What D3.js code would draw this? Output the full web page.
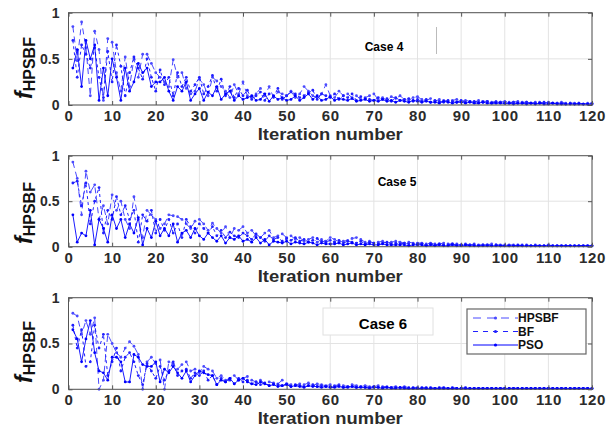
<!DOCTYPE html>
<html><head><meta charset="utf-8">
<script src="https://cdn.jsdelivr.net/npm/d3@7"></script>
<style>body{margin:0;background:#fff}svg{display:block}</style>
</head><body>
<svg id="c" width="614" height="428"></svg>
<script>
const seriesNames = ["HPSBF","BF","PSO"];
const caseLabels = ["Case 4","Case 5","Case 6"];
const xTicks = [0,10,20,30,40,50,60,70,80,90,100,110,120];
const yTicks = [0,0.5,1];

// Case 4
const c4HPSBF = [0.85,0.48,0.9,0.62,0.1,0.8,0.6,0.05,0.72,0.68,0.35,0.15,0.52,0.2,0.5,0.3,0.55,0.55,0.45,0.35,
0.3,0.25,0.2,0.49,0.3,0.35,0.18,0.12,0.15,0.28,0.22,0.1,0.3,0.26,0.2,0.15,0.08,0.22,0.12,0.25,
0.1,0.08,0.12,0.18,0.1,0.2,0.08,0.14,0.12,0.1,0.15,0.08,0.12,0.2,0.15,0.1,0.08,0.12,0.22,0.1,
0.08,0.15,0.1,0.12,0.08,0.1,0.06,0.08,0.1,0.12,0.06,0.08,0.05,0.09,0.07,0.1,0.06,0.05,0.08,0.09,
0.06,0.05,0.07,0.04,0.06,0.05,0.04,0.05,0.06,0.04,0.05,0.04,0.03,0.05,0.04,0.04,0.03,0.04,0.03,0.04,
0.03,0.03,0.04,0.03,0.03,0.02,0.03,0.03,0.02,0.03,0.02,0.02,0.03,0.02,0.02,0.02,0.02,0.01,0.02,0.02];
const c4BF = [0.7,0.3,0.65,0.55,0.4,0.62,0.3,0.08,0.58,0.25,0.65,0.42,0.1,0.35,0.52,0.4,0.28,0.5,0.3,0.15,
0.38,0.22,0.3,0.1,0.35,0.2,0.3,0.15,0.22,0.3,0.12,0.2,0.32,0.15,0.28,0.1,0.2,0.08,0.18,0.1,
0.16,0.06,0.1,0.14,0.05,0.12,0.09,0.18,0.06,0.1,0.14,0.12,0.08,0.1,0.13,0.16,0.06,0.12,0.1,0.08,
0.12,0.06,0.1,0.08,0.12,0.05,0.09,0.07,0.06,0.05,0.08,0.06,0.07,0.04,0.08,0.05,0.06,0.07,0.04,0.06,
0.04,0.06,0.03,0.05,0.04,0.03,0.05,0.04,0.03,0.05,0.03,0.04,0.04,0.03,0.03,0.04,0.02,0.03,0.03,0.02,
0.02,0.03,0.02,0.02,0.03,0.02,0.02,0.02,0.03,0.02,0.02,0.02,0.02,0.01,0.02,0.01,0.02,0.01,0.01,0.01];
const c4PSO = [0.4,0.6,0.2,0.7,0.5,0.65,0.05,0.4,0.1,0.5,0.3,0.05,0.4,0.15,0.25,0.45,0.35,0.4,0.2,0.25,
0.25,0.3,0.15,0.05,0.2,0.15,0.25,0.05,0.12,0.18,0.05,0.14,0.1,0.2,0.06,0.12,0.15,0.05,0.1,0.06,
0.08,0.1,0.05,0.06,0.12,0.04,0.1,0.06,0.08,0.05,0.06,0.1,0.05,0.08,0.12,0.06,0.1,0.05,0.06,0.09,
0.05,0.07,0.06,0.05,0.07,0.04,0.05,0.06,0.04,0.05,0.04,0.06,0.04,0.05,0.03,0.05,0.04,0.03,0.05,0.04,
0.03,0.04,0.03,0.03,0.02,0.04,0.03,0.02,0.03,0.03,0.02,0.03,0.02,0.02,0.03,0.02,0.02,0.02,0.02,0.02,
0.02,0.01,0.02,0.02,0.01,0.02,0.01,0.02,0.01,0.01,0.02,0.01,0.01,0.01,0.01,0.01,0.01,0.01,0.01,0.01];

// Case 5
const c5HPSBF = [0.93,0.75,0.35,0.83,0.6,0.68,0.3,0.45,0.25,0.57,0.4,0.5,0.3,0.2,0.55,0.3,0.1,0.4,0.35,0.3,
0.2,0.25,0.35,0.34,0.33,0.3,0.25,0.2,0.28,0.3,0.25,0.18,0.26,0.2,0.15,0.22,0.1,0.2,0.18,0.22,
0.15,0.18,0.12,0.1,0.15,0.18,0.1,0.12,0.14,0.1,0.12,0.08,0.1,0.06,0.08,0.1,0.05,0.08,0.06,0.1,
0.08,0.05,0.06,0.07,0.09,0.1,0.08,0.05,0.06,0.04,0.05,0.06,0.04,0.05,0.06,0.05,0.04,0.05,0.04,0.04,
0.04,0.03,0.04,0.03,0.03,0.04,0.03,0.03,0.03,0.02,0.03,0.02,0.03,0.02,0.02,0.02,0.03,0.02,0.02,0.02,
0.02,0.02,0.01,0.02,0.02,0.01,0.02,0.01,0.01,0.02,0.01,0.01,0.01,0.01,0.01,0.01,0.01,0.01,0.01,0.01];
const c5BF = [0.7,0.72,0.45,0.7,0.25,0.5,0.65,0.15,0.4,0.3,0.55,0.35,0.45,0.3,0.4,0.05,0.35,0.28,0.4,0.15,
0.3,0.18,0.3,0.15,0.25,0.1,0.3,0.22,0.15,0.25,0.2,0.15,0.22,0.12,0.18,0.1,0.16,0.12,0.1,0.15,
0.12,0.08,0.14,0.1,0.06,0.12,0.08,0.1,0.06,0.09,0.07,0.1,0.06,0.08,0.05,0.07,0.09,0.06,0.05,0.07,
0.05,0.07,0.04,0.06,0.05,0.04,0.06,0.03,0.05,0.04,0.03,0.04,0.05,0.03,0.04,0.03,0.04,0.03,0.03,0.03,
0.03,0.02,0.03,0.02,0.03,0.02,0.02,0.03,0.02,0.02,0.02,0.02,0.02,0.01,0.02,0.02,0.01,0.02,0.01,0.01,
0.01,0.01,0.02,0.01,0.01,0.01,0.01,0.01,0.01,0.01,0.01,0.01,0.01,0.01,0.01,0.01,0.01,0.01,0.01,0.01];
const c5PSO = [0.35,0.05,0.15,0.12,0.4,0.02,0.3,0.2,0.05,0.35,0.2,0.3,0.1,0.25,0.15,0.32,0.02,0.2,0.1,0.28,
0.12,0.2,0.12,0.25,0.05,0.15,0.18,0.1,0.2,0.12,0.08,0.15,0.1,0.06,0.12,0.04,0.1,0.08,0.12,0.06,
0.08,0.05,0.1,0.04,0.08,0.02,0.06,0.05,0.04,0.06,0.03,0.05,0.04,0.03,0.05,0.04,0.02,0.04,0.03,0.03,
0.03,0.04,0.02,0.03,0.04,0.02,0.03,0.02,0.03,0.02,0.02,0.03,0.02,0.02,0.02,0.02,0.02,0.01,0.02,0.02,
0.02,0.01,0.02,0.01,0.02,0.01,0.01,0.02,0.01,0.01,0.02,0.01,0.01,0.01,0.01,0.01,0.01,0.01,0.01,0.01,
0.01,0.01,0.01,0.01,0.01,0.01,0.01,0.01,0.01,0.01,0.01,0.01,0.01,0.01,0.01,0.01,0.01,0.01,0.01,0.01];

// Case 6
const c6HPSBF = [0.83,0.8,0.6,0.75,0.6,0.78,0.0,0.1,0.6,0.5,0.4,0.35,0.45,0.52,0.47,0.38,0.0,0.3,0.35,0.28,
0.32,0.0,0.3,0.28,0.22,0.27,0.3,0.2,0.22,0.18,0.25,0.22,0.2,0.12,0.15,0.1,0.12,0.15,0.1,0.12,
0.14,0.1,0.08,0.1,0.06,0.08,0.07,0.06,0.1,0.06,0.05,0.04,0.06,0.05,0.07,0.04,0.06,0.05,0.04,0.05,
0.04,0.05,0.04,0.03,0.05,0.04,0.03,0.04,0.03,0.03,0.04,0.03,0.03,0.02,0.03,0.02,0.03,0.02,0.02,0.02,
0.02,0.02,0.02,0.01,0.02,0.02,0.01,0.02,0.01,0.01,0.02,0.01,0.01,0.01,0.01,0.01,0.01,0.01,0.01,0.01,
0.01,0.01,0.01,0.01,0.01,0.01,0.01,0.01,0.01,0.01,0.01,0.01,0.01,0.01,0.01,0.01,0.01,0.01,0.01,0.01];
const c6BF = [0.7,0.45,0.65,0.25,0.3,0.7,0.45,0.6,0.15,0.3,0.45,0.2,0.35,0.4,0.3,0.15,0.05,0.28,0.2,0.12,
0.25,0.1,0.2,0.3,0.15,0.2,0.22,0.12,0.18,0.15,0.2,0.1,0.15,0.05,0.12,0.08,0.1,0.06,0.12,0.08,
0.1,0.06,0.08,0.05,0.07,0.04,0.06,0.05,0.04,0.06,0.03,0.05,0.04,0.03,0.04,0.05,0.03,0.04,0.03,0.03,
0.03,0.04,0.02,0.03,0.03,0.02,0.03,0.02,0.02,0.03,0.02,0.02,0.02,0.02,0.02,0.01,0.02,0.01,0.01,0.01,
0.01,0.01,0.01,0.01,0.01,0.01,0.01,0.01,0.01,0.01,0.01,0.01,0.01,0.01,0.01,0.01,0.01,0.01,0.01,0.01,
0.01,0.01,0.01,0.01,0.01,0.01,0.01,0.01,0.01,0.01,0.01,0.01,0.01,0.01,0.01,0.01,0.01,0.01,0.01,0.01];
const c6PSO = [0.65,0.55,0.3,0.55,0.75,0.4,0.2,0.18,0.1,0.35,0.35,0.3,0.08,0.08,0.38,0.35,0.27,0.25,0.25,0.3,
0.08,0.22,0.18,0.25,0.18,0.12,0.2,0.08,0.15,0.2,0.18,0.16,0.15,0.05,0.1,0.08,0.12,0.06,0.1,0.12,
0.08,0.06,0.05,0.08,0.06,0.04,0.05,0.03,0.04,0.05,0.03,0.04,0.03,0.02,0.04,0.03,0.03,0.02,0.03,0.02,
0.02,0.03,0.02,0.02,0.03,0.02,0.02,0.02,0.01,0.02,0.02,0.01,0.02,0.01,0.01,0.02,0.01,0.01,0.01,0.01,
0.01,0.01,0.01,0.01,0.01,0.01,0.01,0.01,0.01,0.01,0.01,0.01,0.01,0.01,0.01,0.01,0.01,0.01,0.01,0.01,
0.01,0.01,0.01,0.01,0.01,0.01,0.01,0.01,0.01,0.01,0.01,0.01,0.01,0.01,0.01,0.01,0.01,0.01,0.01,0.01];

const panelsData = [[c4HPSBF,c4BF,c4PSO],[c5HPSBF,c5BF,c5PSO],[c6HPSBF,c6BF,c6PSO]];

const styles = [
  {color:"#4a4aff", dash:"6,4", width:1},
  {color:"#2020ff", dash:"3,3", width:1},
  {color:"#0000ff", dash:null, width:0.9}
];

const svg = d3.select("#c");
svg.append("rect").attr("width",614).attr("height",428).attr("fill","#fff");
const FONT = "Arial, 'Liberation Sans', Helvetica, sans-serif";

const x = d3.scaleLinear().domain([0,120]).range([68.5,592]);
const panelY = [[105,12.7],[246.7,155.7],[389.3,297.7]];
const yLabelCenter = [68,213,352];

panelsData.forEach((series, p) => {
  const y = d3.scaleLinear().domain([0,1]).range(panelY[p]);
  const g = svg.append("g");
  const x0 = x.range()[0], x1 = x.range()[1], yb = y.range()[0], yt = y.range()[1];
  g.append("rect").attr("x",x0).attr("y",yt).attr("width",x1-x0).attr("height",yb-yt).attr("fill","#fff");
  // grid
  g.append("g").selectAll("line").data(xTicks).join("line")
    .attr("x1",d=>x(d)).attr("x2",d=>x(d)).attr("y1",yt).attr("y2",yb)
    .attr("stroke","#e3e3e3").attr("stroke-width",1);
  g.append("g").selectAll("line").data(yTicks).join("line")
    .attr("x1",x0).attr("x2",x1).attr("y1",d=>y(d)).attr("y2",d=>y(d))
    .attr("stroke","#e3e3e3").attr("stroke-width",1);

  // series
  series.forEach((vals, s) => {
    const st = styles[s];
    const pts = vals.map((v,i)=>[i+1,v]);
    const line = d3.line().x(d=>x(d[0])).y(d=>y(d[1]));
    g.append("path").datum(pts).attr("d",line).attr("fill","none")
      .attr("stroke",st.color).attr("stroke-width",st.width)
      .attr("stroke-dasharray",st.dash);
    g.append("g").selectAll("circle").data(pts).join("circle")
      .attr("cx",d=>x(d[0])).attr("cy",d=>y(d[1])).attr("r",1.4)
      .attr("fill",st.color);
  });

  // axes
  const xb = d3.axisBottom(x).tickValues(xTicks).tickSizeInner(-4).tickSizeOuter(0).tickPadding(5.5);
  const xt = d3.axisTop(x).tickValues(xTicks).tickSizeInner(-4).tickSizeOuter(0).tickFormat("");
  const yl = d3.axisLeft(y).tickValues(yTicks).tickSizeInner(-4).tickSizeOuter(0).tickPadding(9).tickFormat(d3.format("~g"));
  const yr = d3.axisRight(y).tickValues(yTicks).tickSizeInner(-4).tickSizeOuter(0).tickFormat("");
  const axB = g.append("g").attr("transform",`translate(0,${yb})`).call(xb);
  const axT = g.append("g").attr("transform",`translate(0,${yt})`).call(xt);
  const axL = g.append("g").attr("transform",`translate(${x0},0)`).call(yl);
  const axR = g.append("g").attr("transform",`translate(${x1},0)`).call(yr);
  [axB,axT,axL,axR].forEach(a=>{
    a.select(".domain").remove();
    a.selectAll(".tick line").attr("stroke","#555");
    a.selectAll("text").attr("font-family",FONT).attr("font-weight","bold")
      .attr("font-size",14).attr("fill","#2b2b2b");
  });
  axB.selectAll("text").attr("font-size",15).attr("letter-spacing",0.6);
  g.append("rect").attr("x",x0).attr("y",yt).attr("width",x1-x0).attr("height",yb-yt)
    .attr("fill","none").attr("stroke","#555").attr("stroke-width",1);

  // x label
  g.append("text").attr("x",(x0+x1)/2).attr("y",yb+35).attr("text-anchor","middle")
    .attr("font-family",FONT).attr("font-weight","bold").attr("font-size",16).attr("fill","#2b2b2b")
    .attr("textLength",145).attr("lengthAdjust","spacingAndGlyphs")
    .text("Iteration number");
  // y label
  const yl2 = g.append("text").attr("transform",`translate(32,${yLabelCenter[p]}) rotate(-90)`)
    .attr("text-anchor","middle").attr("font-family",FONT).attr("font-weight","bold").attr("fill","#111");
  yl2.append("tspan").attr("font-size",23).attr("font-style","italic").text("f");
  yl2.append("tspan").attr("font-size",16).attr("dy",3).text("HPSBF");
});

// Case labels
svg.append("line").attr("x1",436.5).attr("x2",436.5).attr("y1",27).attr("y2",54).attr("stroke","#bbb");
svg.append("text").attr("x",384).attr("y",51).attr("text-anchor","middle")
  .attr("font-family",FONT).attr("font-weight","bold").attr("font-size",12).text(caseLabels[0]);
svg.append("text").attr("x",397).attr("y",186).attr("text-anchor","middle")
  .attr("font-family",FONT).attr("font-weight","bold").attr("font-size",12).text(caseLabels[1]);
svg.append("rect").attr("x",323).attr("y",308).attr("width",110).attr("height",27)
  .attr("fill","#fff").attr("stroke","#e0e0e0");
svg.append("text").attr("x",383).attr("y",329).attr("text-anchor","middle")
  .attr("font-family",FONT).attr("font-weight","bold").attr("font-size",15).text(caseLabels[2]);

// legend
const lg = svg.append("g");
lg.append("rect").attr("x",467).attr("y",309).attr("width",119).attr("height",45)
  .attr("fill","#fff").attr("stroke","#666").attr("stroke-width",1.2);
const legY = [318,331.5,345];
seriesNames.forEach((n,i)=>{
  const st = styles[i];
  lg.append("line").attr("x1",473).attr("x2",518).attr("y1",legY[i]).attr("y2",legY[i])
    .attr("stroke",st.color).attr("stroke-width",1).attr("stroke-dasharray",i===0?"8,6":i===1?"5,5":null);
  lg.append("circle").attr("cx",495.5).attr("cy",legY[i]).attr("r",1.6).attr("fill",st.color);
  lg.append("text").attr("x",518).attr("y",legY[i]+4.3).attr("font-family",FONT)
    .attr("font-weight","bold").attr("font-size",12).attr("fill","#111").text(n);
});
</script>
</body></html>
